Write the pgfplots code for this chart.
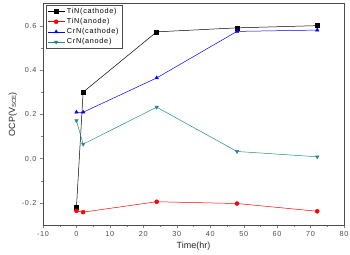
\documentclass[border=0pt]{standalone}
\usepackage{pgfplots}
\pgfplotsset{compat=1.18}
\usepackage{fontspec}
\setmainfont{Liberation Sans}
\newfontfamily\spaced[LetterSpace=10]{Liberation Sans}
\definecolor{cteal}{RGB}{30,140,140}
\begin{document}
\begin{tikzpicture}[x=1bp,y=1bp]
\begin{axis}[
  scale only axis,
  width=301bp, height=221.5bp,
  xmin=-10, xmax=80, ymin=-0.3, ymax=0.7,
  xtick={-10,0,...,80},
  ytick={-0.2,0,0.2,0.4,0.6},
  minor x tick num=1, minor y tick num=1,
  tick align=outside,
  xtick pos=bottom, ytick pos=left,
  major tick length=3bp, minor tick length=1.8bp,
  /pgf/number format/assume math mode=true,
  yticklabel style={/pgf/number format/fixed,/pgf/number format/fixed zerofill,/pgf/number format/precision=1},
  ticklabel style={font=\spaced\fontsize{7.3}{8}\selectfont, text=black!70},
  xlabel={Time(hr)}, ylabel={OCP(V$_{\mathrm{SCE}}$)},
  label style={font=\fontsize{9}{10}\selectfont, text=black!85},
  xlabel style={yshift=2bp},
  ylabel style={yshift=-2bp},
  axis line style={black!70},
  legend style={font=\spaced\fontsize{7.3}{8.5}\selectfont, draw=black!70, inner sep=1.2pt, row sep=-0.6pt,
    at={(0.01,0.994)}, anchor=north west},
  legend cell align=left,
  every axis plot/.append style={line width=0.5pt, mark size=2pt},
]
\addplot[black, mark=square*] coordinates {(0,-0.221) (2,0.30) (24,0.572) (48,0.59) (72,0.60)};
\addlegendentry{TiN(cathode)}
\addplot[red, mark=*] coordinates {(0,-0.236) (2,-0.242) (24,-0.195) (48,-0.203) (72,-0.238)};
\addlegendentry{TiN(anode)}
\addplot[blue, mark=triangle*] coordinates {(0,0.209) (2,0.209) (24,0.364) (48,0.574) (72,0.58)};
\addlegendentry{CrN(cathode)}
\addplot[cteal, mark=triangle*, mark options={rotate=180}] coordinates {(0,0.171) (2,0.065) (24,0.232) (48,0.032) (72,0.008)};
\addlegendentry{CrN(anode)}
\end{axis}
\pgfresetboundingbox
\path[use as bounding box] (-43bp,-30bp) rectangle (307bp,225bp);
\end{tikzpicture}
\end{document}
